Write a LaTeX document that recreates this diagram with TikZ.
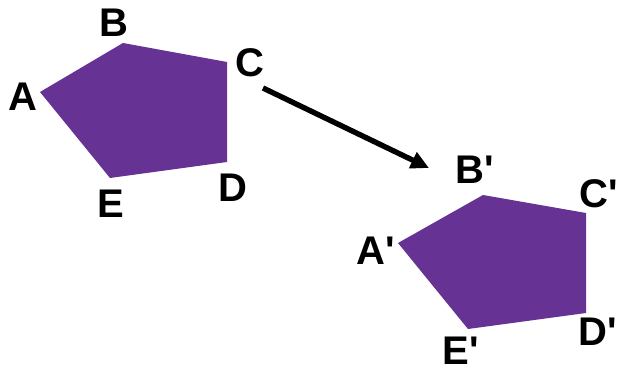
\documentclass[tikz,border=0pt]{standalone}
\usepackage{fontspec}
\newfontfamily\labelfont{Liberation Sans}
\usetikzlibrary{arrows.meta,positioning}
\definecolor{pentapurple}{RGB}{102,51,148}

\begin{document}
\begin{tikzpicture}[x=0.5pt,y=-0.5pt,
  vlabel/.style={font=\labelfont\fontsize{20}{20}\selectfont\bfseries,inner sep=0pt}]
\useasboundingbox (0,0) rectangle (619,373);
% original pentagon
\coordinate (A) at (40,92);
\coordinate (B) at (123,43);
\coordinate (C) at (227,62);
\coordinate (D) at (227,162);
\coordinate (E) at (110,178);
\fill[pentapurple] (A) -- (B) -- (C) -- (D) -- (E) -- cycle;
% translated pentagon
\coordinate (A1) at (398,243);
\coordinate (B1) at (483,195);
\coordinate (C1) at (586,213);
\coordinate (D1) at (586,313);
\coordinate (E1) at (468,329);
\fill[pentapurple] (A1) -- (B1) -- (C1) -- (D1) -- (E1) -- cycle;
% vertex labels
\foreach \n/\x/\y in {A/23/97,B/114/23,C/250/63,D/233/188,E/111/204}
  \node[vlabel] (lab\n) at (\x,\y) {\n};
\foreach \n/\x/\y in {A/376/251,B/475/170,C/599/194,D/598/332,E/461/351}
  \node[vlabel] (lab\n1) at (\x,\y) {\n'};
% translation arrow
\coordinate (tail) at (263,88);
\coordinate (head) at (429,168);
\draw[line width=2.7pt,-{Triangle[length=9pt,width=8.5pt]}] (tail) -- (head);
\end{tikzpicture}
\end{document}
